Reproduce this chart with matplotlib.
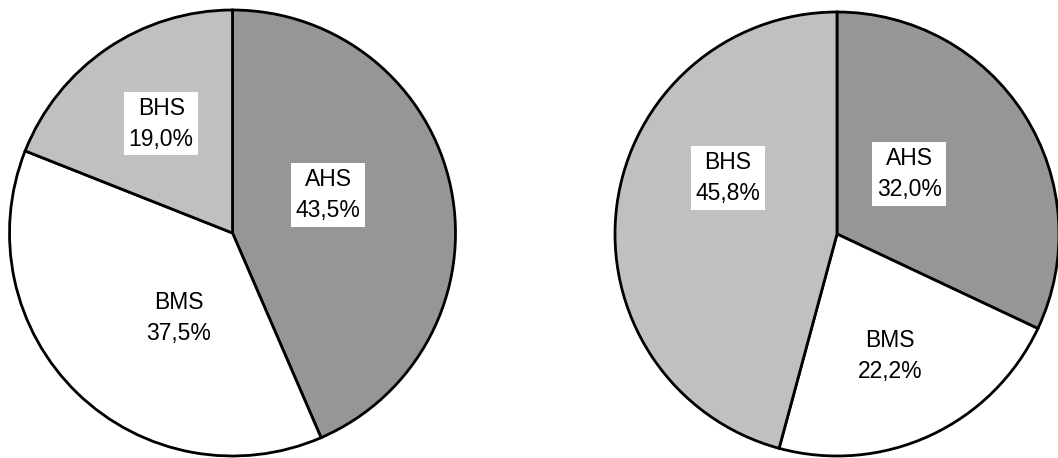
import matplotlib
matplotlib.use("Agg")
from matplotlib import pyplot as plt

plt.rcParams['font.family'] = ['Liberation Sans', 'DejaVu Sans']

# data
categories = ["AHS", "BMS", "BHS"]
left_values = [43.5, 37.5, 19.0]
right_values = [32.0, 22.2, 45.8]
colors = ["#969696", "#ffffff", "#c0c0c0"]

# label box centres, in pie radius units (same order as categories)
left_label_pos = [(0.43, 0.17), (-0.24, -0.38), (-0.32, 0.49)]
right_label_pos = [(0.325, 0.27), (0.24, -0.548), (-0.493, 0.252)]

W, H = 1058, 458
fig = plt.figure(figsize=(W / 100, H / 100), dpi=100)


def draw_pie(cx, cy, r, values, label_pos):
    ax = fig.add_axes([(cx - r) / W, (H - cy - r) / H, 2 * r / W, 2 * r / H])
    ax.pie(values, colors=colors, startangle=90, counterclock=False,
           radius=1, wedgeprops=dict(edgecolor="black", linewidth=2.0))
    ax.set_xlim(-1, 1)
    ax.set_ylim(-1, 1)
    for name, v, (x, y) in zip(categories, values, label_pos):
        txt = name + "\n" + f"{v:.1f}".replace(".", ",") + "%"
        ax.text(x, y, txt, ha="center", va="center", fontsize=16.5,
                linespacing=1.45,
                bbox=dict(boxstyle="square,pad=0.2", facecolor="white",
                          edgecolor="none"))
    ax.axis("off")


draw_pie(232.5, 233, 223, left_values, left_label_pos)
draw_pie(837, 234, 222, right_values, right_label_pos)

fig.savefig("out.png", dpi=100)
